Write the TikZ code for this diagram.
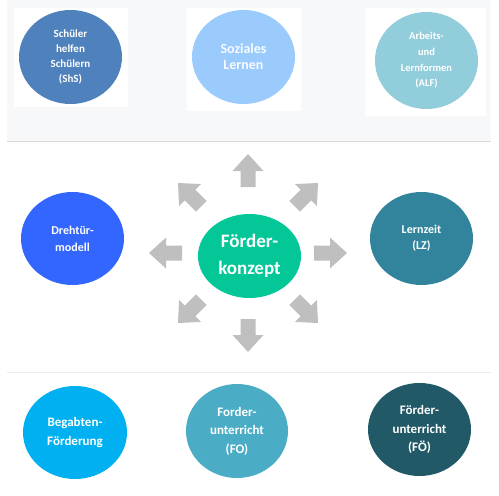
\documentclass[tikz,border=0pt]{standalone}
\usepackage{fontspec}
\setmainfont{Carlito}
\usepackage{tikz}
\usetikzlibrary{shapes.geometric, positioning}

\definecolor{bandgray}{HTML}{F7F8F9}
\definecolor{rulegray}{HTML}{D9D9D9}
\definecolor{arrowgray}{HTML}{BFBFBF}
\definecolor{cShS}{HTML}{4F81BD}
\definecolor{cSoz}{HTML}{9BCBFC}
\definecolor{cALF}{HTML}{92CDDC}
\definecolor{cDreh}{HTML}{3366FF}
\definecolor{cFoerd}{HTML}{03C797}
\definecolor{cLZ}{HTML}{31849B}
\definecolor{cBeg}{HTML}{00B0F0}
\definecolor{cFO}{HTML}{4BACC6}
\definecolor{cFOE}{HTML}{215967}

\tikzset{
  bubble/.style={ellipse, inner sep=0pt, minimum width=103pt, minimum height=94pt,
    text=white, align=center, font=\bfseries\fontsize{11}{15}\selectfont},
  bigtext/.style={font=\bfseries\fontsize{13}{18.5}\selectfont},
  blockarrow/.style={fill=arrowgray}
}

\begin{document}
\begin{tikzpicture}[x=1pt, y=-1pt]
    \useasboundingbox (0,0) rectangle (499,496);

    % top band
    \fill[bandgray] (7,0) rectangle (491,141);
    \draw[rulegray] (7,141) -- (491,141);
    \draw[rulegray!50] (7,372) -- (491,372);
    \fill[white] (14,8) rectangle (128,107);
    \fill[white] (187,8) rectangle (301,111);
    \fill[white] (365,8) rectangle (486,116);

    % top row
    \node[bubble, fill=cShS] (shs) at (70.5,57) {Schüler\\helfen\\Schülern\\(ShS)};
    \node[bubble, fill=cSoz, text=white!92!cSoz, font=\bfseries\fontsize{14}{16}\selectfont] (soz) at (243.5,57) {Soziales\\Lernen};
    \node[bubble, fill=cALF, minimum height=97pt, font=\bfseries\fontsize{10.5}{15.7}\selectfont] (alf) at (426.5,60.5) {Arbeits-\\und\\Lernformen\\(ALF)};

    % middle row
    \node[bubble, fill=cDreh, minimum height=93pt, font=\bfseries\fontsize{12}{17}\selectfont] (dreh) at (72.5,238.5) {Drehtür-\\modell};
    \node[bubble, fill=cFoerd, minimum height=84pt, font=\bfseries\fontsize{19}{27}\selectfont] (foerd) at (249.5,256) {Förder-\\konzept};
    \node[bubble, fill=cLZ, minimum height=93pt, font=\bfseries\fontsize{12}{16}\selectfont] (lz) at (421.5,238.5) {Lernzeit\\(LZ)};

    % arrows
    \foreach \a in {0,45,...,315}
        \fill[blockarrow, shift={(248,253)}, rotate=\a]
            (66,-7.5) -- (82,-7.5) -- (82,-15.5) -- (99,0) -- (82,15.5) -- (82,7.5) -- (66,7.5) -- cycle;

    % bottom row
    \node[bubble, fill=cBeg, minimum width=104pt, minimum height=93pt, bigtext] (beg) at (75,432.5) {Begabten-\\Förderung};
    \node[bubble, fill=cFO, minimum width=102pt, bigtext] (fo) at (237,431) {Forder-\\unterricht\\(FO)};
    \node[bubble, fill=cFOE, minimum height=93pt, bigtext] (foe) at (419.5,429.5) {Förder-\\unterricht\\(FÖ)};
\end{tikzpicture}
\end{document}
